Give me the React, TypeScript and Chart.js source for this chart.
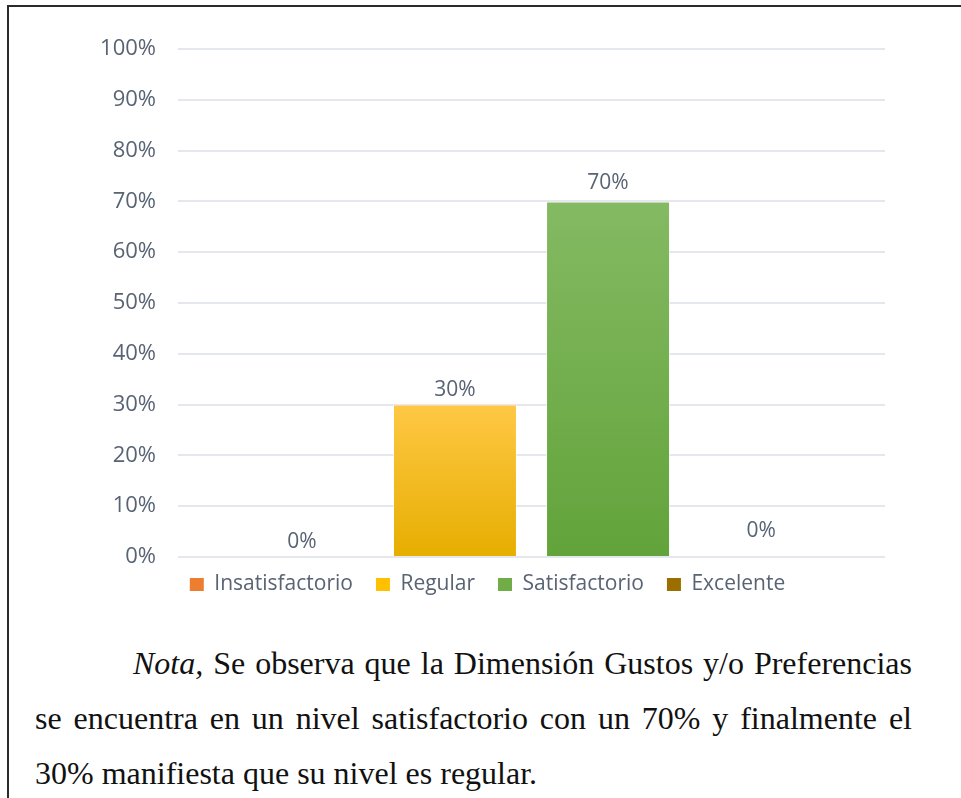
import React, { useEffect, useRef } from "react";
import { Chart, registerables } from "chart.js";

Chart.register(...registerables);

const categories = [""];
const seriesNames = ["Insatisfactorio", "Regular", "Satisfactorio", "Excelente"];
const insatisfactorio = [0];
const regular = [30];
const satisfactorio = [70];
const excelente = [0];
const yTicks = [0, 10, 20, 30, 40, 50, 60, 70, 80, 90, 100];

const solidColors = ["#ED7D31", "#FFC000", "#70AD47", "#9C6E00"];
const gradTop = ["#F3934F", "#FFC845", "#84BA63", "#A87A0A"];
const gradBottom = ["#E06C1E", "#E6AE00", "#62A33A", "#8F6400"];
const labelLift = [15, 15, 18, 26];

const TEXT = "#586374";
const FONT = "'Open Sans', 'Noto Sans', sans-serif";

function makeBg(i: number) {
  return (ctx: any) => {
    const chart = ctx.chart;
    const y = chart.scales && chart.scales.y;
    if (!y || ctx.raw === undefined) return solidColors[i];
    const top = y.getPixelForValue(ctx.raw);
    const base = y.getPixelForValue(0);
    if (!isFinite(top) || !isFinite(base) || base - top < 1) return solidColors[i];
    const g = chart.ctx.createLinearGradient(0, top, 0, base);
    g.addColorStop(0, gradTop[i]);
    g.addColorStop(1, gradBottom[i]);
    return g;
  };
}

const valueLabels = {
  id: "valueLabels",
  afterDatasetsDraw(chart: any) {
    const ctx = chart.ctx;
    ctx.save();
    ctx.font = `21px ${FONT}`;
    ctx.fillStyle = TEXT;
    ctx.textAlign = "center";
    ctx.textBaseline = "middle";
    chart.data.datasets.forEach((ds: any, di: number) => {
      const meta = chart.getDatasetMeta(di);
      meta.data.forEach((el: any, idx: number) => {
        const v = ds.data[idx];
        ctx.fillText(`${v}%`, el.x, el.y - labelLift[di]);
      });
    });
    ctx.restore();
  },
};

export default function App() {
  const ref = useRef<HTMLCanvasElement | null>(null);

  useEffect(() => {
    if (!ref.current) return;
    const seriesValues = [insatisfactorio, regular, satisfactorio, excelente];
    const chart = new Chart(ref.current, {
      type: "bar",
      data: {
        labels: categories,
        datasets: seriesNames.map((name, i) => ({
          label: name,
          data: seriesValues[i],
          backgroundColor: makeBg(i),
          borderColor: "rgba(255,255,255,0.55)",
          borderWidth: 1,
          categoryPercentage: 0.866,
          barPercentage: 0.81,
        })),
      },
      options: {
        animation: false,
        responsive: false,
        devicePixelRatio: 1,
        layout: { padding: { top: 49, right: 76, left: 90, bottom: 0 } },
        scales: {
          x: {
            display: true,
            ticks: { display: false },
            grid: { display: false },
            border: { display: false },
            afterFit: (s: any) => {
              s.height = -6;
            },
          },
          y: {
            min: 0,
            max: 100,
            afterBuildTicks: (s: any) => {
              s.ticks = yTicks.map((v) => ({ value: v }));
            },
            ticks: {
              padding: 22,
              color: TEXT,
              font: { family: FONT, size: 22 },
              callback: (v: any) => `${v}%`,
            },
            grid: { color: "#e4e7ec", lineWidth: 2, drawTicks: false },
            border: { display: false },
            afterFit: (s: any) => {
              s.width = 88;
            },
          },
        },
        plugins: {
          legend: {
            position: "bottom",
            labels: {
              boxWidth: 14,
              boxHeight: 13,
              padding: 23,
              color: TEXT,
              font: { family: FONT, size: 21 },
              generateLabels: (c: any) =>
                c.data.datasets.map((ds: any, i: number) => ({
                  text: ds.label,
                  fillStyle: solidColors[i],
                  strokeStyle: solidColors[i],
                  lineWidth: 0,
                  datasetIndex: i,
                  hidden: false,
                  fontColor: TEXT,
                })),
            },
          },
          tooltip: { enabled: false },
        },
      },
      plugins: [valueLabels],
    });
    return () => chart.destroy();
  }, []);

  return (
    <div
      style={{
        position: "fixed",
        left: 0,
        top: 0,
        width: 961,
        height: 798,
        overflow: "hidden",
        background: "#ffffff",
      }}
    >
      <div
        style={{
          position: "absolute",
          left: 7,
          top: 5,
          width: 1100,
          height: 1000,
          borderTop: "2px solid #2b2b2b",
          borderLeft: "2px solid #2b2b2b",
        }}
      />
      <canvas
        ref={ref}
        width={961}
        height={611}
        style={{ position: "absolute", left: 0, top: 0, display: "block" }}
      />
      <p
        style={{
          position: "absolute",
          left: 35,
          top: 636,
          width: 877,
          margin: 0,
          fontFamily: "'Liberation Serif', 'Times New Roman', serif",
          fontSize: 32,
          lineHeight: "55px",
          textAlign: "justify",
          textIndent: 98,
          color: "#111111",
        }}
      >
        <i>Nota,</i> Se observa que la Dimensión Gustos y/o Preferencias se encuentra en un
        nivel satisfactorio con un 70% y finalmente el 30% manifiesta que su nivel es regular.
      </p>
    </div>
  );
}
